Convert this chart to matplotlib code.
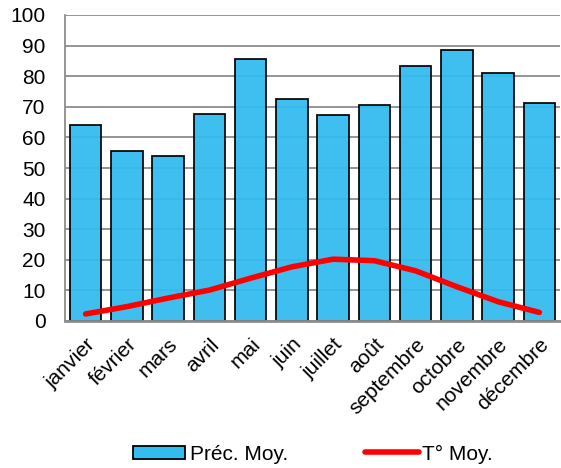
import matplotlib.pyplot as plt
import numpy as np
from matplotlib.patches import Patch
from matplotlib.lines import Line2D

plt.rcParams['font.family'] = ['Liberation Sans', 'DejaVu Sans']

months = ["janvier", "février", "mars", "avril", "mai", "juin", "juillet",
          "août", "septembre", "octobre", "novembre", "décembre"]
precip = [64.2, 55.7, 53.9, 67.8, 85.5, 72.6, 67.2, 70.5, 83.4, 88.6, 81.0, 71.1]
temp = [2.3, 4.7, 7.5, 10.1, 14.0, 17.7, 20.2, 19.7, 16.4, 11.2, 6.3, 2.8]
yticks = list(range(0, 101, 10))

fig = plt.figure(figsize=(5.61, 4.68), dpi=100)
ax = fig.add_axes([65 / 561, 147 / 468, 495 / 561, 306 / 468])

x = np.arange(len(months))
ax.bar(x, precip, width=0.76, color="#33BCF0", edgecolor="black",
       linewidth=1.3, alpha=0.95, zorder=2)
ax.plot(x, temp, color="#FF0000", linewidth=4, solid_capstyle="round", zorder=3)

ax.set_xlim(-0.5, len(months) - 0.5)
ax.set_ylim(0, 100)
ax.set_yticks(yticks)
ax.yaxis.grid(True, color="#8C8C8C", linewidth=1.3, zorder=1)
ax.set_axisbelow(True)

for s in ["top", "right"]:
    ax.spines[s].set_visible(False)
ax.spines["left"].set_color("#8C8C8C")
ax.spines["left"].set_linewidth(1.3)
ax.spines["bottom"].set_color("#8C8C8C")
ax.spines["bottom"].set_linewidth(2)
ax.spines["bottom"].set_zorder(4)

ax.tick_params(axis="both", length=0, labelsize=15, colors="black")
ax.tick_params(axis="y", pad=14)
ax.set_xticks(x)
ax.set_xticklabels(months, rotation=45, ha="right", rotation_mode="anchor",
                   fontsize=15)
ax.tick_params(axis="x", pad=10)

# legend entries placed separately, like the reference
bar_handle = Patch(facecolor="#33BCF0", edgecolor="black", linewidth=1.3)
line_handle = Line2D([0], [0], color="#FF0000", linewidth=4, solid_capstyle="round")
leg1 = fig.legend([bar_handle], ["Préc. Moy."], loc="center left",
                  bbox_to_anchor=(133 / 561, 14 / 468), frameon=False, fontsize=15,
                  handlelength=2.5, handleheight=0.6, handletextpad=0.25,
                  borderpad=0, borderaxespad=0)
leg2 = fig.legend([line_handle], ["T° Moy."], loc="center left",
                  bbox_to_anchor=(365 / 561, 14 / 468), frameon=False, fontsize=15,
                  handlelength=2.6, handletextpad=0.15,
                  borderpad=0, borderaxespad=0)

fig.savefig("out.png", dpi=100)
